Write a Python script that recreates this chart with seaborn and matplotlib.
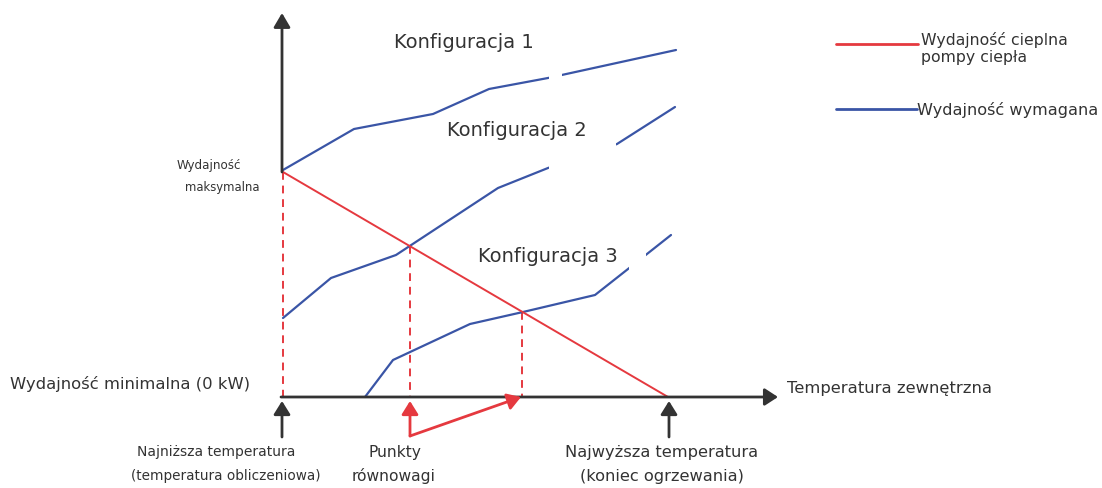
import matplotlib
matplotlib.use("Agg")
import matplotlib.pyplot as plt
import matplotlib.patches as mpatches
import seaborn as sns

# Schematic: heat pump capacity vs outdoor temperature.
# x = position along the temperature axis, y = capacity above the minimum (0 kW)
config1_x = [283, 354, 433, 489, 548, 676]
config1_y = [227, 268, 283, 308, 319, 347]
config2_x = [283, 331, 396, 498, 548, 617, 675]
config2_y = [79, 119, 142, 209, 229, 253, 290]
config3_x = [365, 393, 470, 523, 595, 628, 671]
config3_y = [0, 37, 73, 85, 102, 128, 162]
pump_x = [283, 668]
pump_y = [225, 0]
balance_x = [283, 410, 522]
balance_y = [225, 151, 85]

config_labels = ["Konfiguracja 1", "Konfiguracja 2", "Konfiguracja 3"]
legend_labels = ["Wydajność cieplna\npompy ciepła", "Wydajność wymagana"]

RED = "#e5393f"
BLUE = "#3a55a6"
AXC = "#333333"
TXT = "#333333"

sns.set_theme(style="white")
plt.rcParams["font.family"] = ["DejaVu Sans"]

fig = plt.figure(figsize=(11.02, 4.88), dpi=100)
ax = fig.add_axes([0, 0, 1, 1])
ax.set_xlim(0, 1102)
ax.set_ylim(-91, 397)
ax.axis("off")

# curves
for xs, ys in [(config1_x, config1_y), (config2_x, config2_y), (config3_x, config3_y)]:
    sns.lineplot(x=xs, y=ys, color=BLUE, lw=1.6, sort=False, estimator=None, ax=ax, zorder=3)
sns.lineplot(x=pump_x, y=pump_y, color=RED, lw=1.4, sort=False, estimator=None, ax=ax, zorder=4)

# white label boxes cutting the curves
for (x0, y0, w, h) in [(549, 313, 13, 16), (549, 222, 67, 36), (629, 122, 17, 32)]:
    ax.add_patch(mpatches.Rectangle((x0, y0), w, h, facecolor="white", edgecolor="none", zorder=5))

# balance points: dashed drops to the axis
for bx, by in zip(balance_x, balance_y):
    ax.plot([bx, bx], [by, 0], color=RED, lw=1.4, ls=(0, (4, 3)), zorder=2)

# axes with arrows (vertical axis starts at the maximum capacity point)
ax.annotate("", xy=(282, 384), xytext=(282, balance_y[0]),
            arrowprops=dict(arrowstyle="-|>,head_length=0.85,head_width=0.5", mutation_scale=10,
                            color=AXC, lw=2, shrinkA=0, shrinkB=0), zorder=6)
ax.annotate("", xy=(778, 0), xytext=(281, 0),
            arrowprops=dict(arrowstyle="-|>,head_length=0.8,head_width=0.52", mutation_scale=10,
                            color=AXC, lw=2, shrinkA=0, shrinkB=0), zorder=6)

# pointers under the axis
for px in [282, 669]:
    ax.annotate("", xy=(px, -4), xytext=(px, -40),
                arrowprops=dict(arrowstyle="-|>,head_length=0.8,head_width=0.5", mutation_scale=10,
                                color=AXC, lw=2, shrinkA=0, shrinkB=0), zorder=6)
ax.annotate("", xy=(410, -4), xytext=(410, -39),
            arrowprops=dict(arrowstyle="-|>,head_length=0.8,head_width=0.5", mutation_scale=10,
                            color=RED, lw=2, shrinkA=0, shrinkB=0), zorder=6)
ax.annotate("", xy=(521, 0), xytext=(410, -39),
            arrowprops=dict(arrowstyle="-|>,head_length=0.8,head_width=0.5", mutation_scale=10,
                            color=RED, lw=2, shrinkA=0, shrinkB=0), zorder=6)

# configuration labels
for lab, (tx, ty) in zip(config_labels, [(394, 355), (447, 266), (478, 140)]):
    ax.text(tx, ty, lab, fontsize=14, color=TXT, ha="left", va="center", zorder=7)

# axis texts
ax.text(177, 231, "Wydajność", fontsize=8.6, color=TXT, ha="left", va="center")
ax.text(185, 209, "maksymalna", fontsize=8.4, color=TXT, ha="left", va="center")
ax.text(10, 13, "Wydajność minimalna (0 kW)", fontsize=11.8, color=TXT, ha="left", va="center")
ax.text(787, 9, "Temperatura zewnętrzna", fontsize=11.75, color=TXT, ha="left", va="center")

ax.text(216, -55, "Najniższa temperatura", fontsize=10, color=TXT, ha="center", va="center")
ax.text(226, -79, "(temperatura obliczeniowa)", fontsize=9.8, color=TXT, ha="center", va="center")
ax.text(395, -55, "Punkty", fontsize=11.2, color=TXT, ha="center", va="center")
ax.text(394, -79, "równowagi", fontsize=11.2, color=TXT, ha="center", va="center")
ax.text(662, -55, "Najwyższa temperatura", fontsize=11.7, color=TXT, ha="center", va="center")
ax.text(662, -79, "(koniec ogrzewania)", fontsize=11.7, color=TXT, ha="center", va="center")

# legend drawn by hand
ax.plot([836, 918], [353, 353], color=RED, lw=2)
ax.text(921, 348.5, legend_labels[0], fontsize=11.3, color=TXT, ha="left", va="center", linespacing=1.15)
ax.plot([836, 917], [288, 288], color=BLUE, lw=2)
ax.text(917, 287, legend_labels[1], fontsize=11.6, color=TXT, ha="left", va="center")

fig.savefig("out.png", dpi=100)
